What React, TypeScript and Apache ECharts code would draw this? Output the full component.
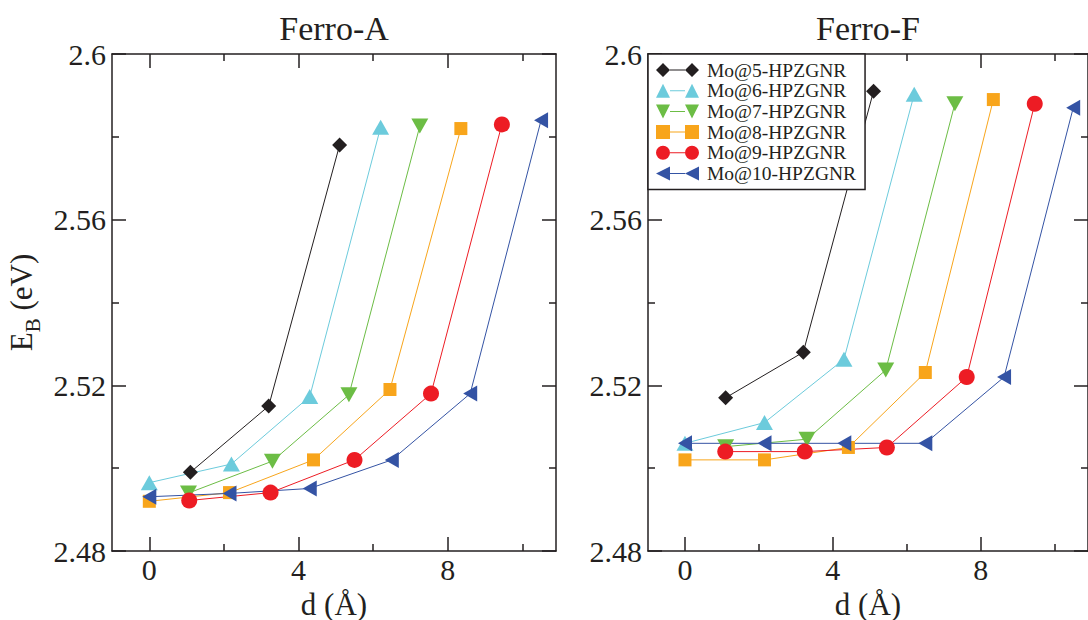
import React, { useEffect, useRef } from "react";
import * as echarts from "echarts";

// ---- series meta ----
const seriesNames = ["Mo@5-HPZGNR", "Mo@6-HPZGNR", "Mo@7-HPZGNR", "Mo@8-HPZGNR", "Mo@9-HPZGNR", "Mo@10-HPZGNR"];
const seriesColors = ["#231f20", "#6ccbdc", "#6cbd45", "#f8a51b", "#ed1c24", "#3453a4"];
const panelTitles = ["Ferro-A", "Ferro-F"];
const xAxisTitle = "d (Å)";
const yAxisTitle = "{a|E}{b|B}{a| (eV)}";

// ---- Ferro-A data: d (Å) and E_B (eV) ----
const dA5 = [1.1, 3.2, 5.1];
const eA5 = [2.499, 2.515, 2.578];
const dA6 = [0, 2.2, 4.3, 6.2];
const eA6 = [2.4965, 2.501, 2.5173, 2.5823];
const dA7 = [1.05, 3.3, 5.35, 7.25];
const eA7 = [2.494, 2.5017, 2.5177, 2.5826];
const dA8 = [0, 2.15, 4.4, 6.45, 8.35];
const eA8 = [2.492, 2.4941, 2.502, 2.519, 2.582];
const dA9 = [1.07, 3.25, 5.5, 7.55, 9.45];
const eA9 = [2.4922, 2.4941, 2.502, 2.518, 2.583];
const dA10 = [0, 2.15, 4.3, 6.5, 8.6, 10.5];
const eA10 = [2.4931, 2.4939, 2.4951, 2.502, 2.518, 2.584];

// ---- Ferro-F data ----
const dF5 = [1.1, 3.2, 5.1];
const eF5 = [2.517, 2.528, 2.591];
const dF6 = [0, 2.15, 4.3, 6.2];
const eF6 = [2.506, 2.511, 2.5263, 2.5903];
const dF7 = [1.1, 3.3, 5.43, 7.3];
const eF7 = [2.5052, 2.507, 2.5237, 2.588];
const dF8 = [0, 2.15, 4.42, 6.5, 8.34];
const eF8 = [2.502, 2.502, 2.505, 2.5231, 2.589];
const dF9 = [1.09, 3.24, 5.46, 7.62, 9.46];
const eF9 = [2.504, 2.504, 2.505, 2.522, 2.588];
const dF10 = [0, 2.15, 4.31, 6.5, 8.63, 10.5];
const eF10 = [2.506, 2.506, 2.506, 2.506, 2.522, 2.587];

// ---- axis ticks ----
const xMajorTicks = [0, 4, 8];
const xMinorTicks = [2, 6, 10];
const yMajorTicks = [2.48, 2.52, 2.56, 2.6];
const yMinorTicks = [2.5, 2.54, 2.58];
const xMin = -1;
const xMax = 10.9;
const yMin = 2.48;
const yMax = 2.6;

const panelX = [
  [dA5, dA6, dA7, dA8, dA9, dA10],
  [dF5, dF6, dF7, dF8, dF9, dF10],
];
const panelY = [
  [eA5, eA6, eA7, eA8, eA9, eA10],
  [eF5, eF6, eF7, eF8, eF9, eF10],
];

const symbolKinds = ["diamond", "triangle", "triangle", "rect", "circle", "triangle"];
const symbolRot = [0, 0, 180, 0, 0, 90];
const symbolSz: any[] = [[15, 15], [17, 15], [17, 15], [13, 13], [16, 16], [16, 14]];

const bar = "M14,6.5L29,6.5L29,7.5L14,7.5Z";
const legendIcons = [
  "path://M0,7L7,0L14,7L7,14Z" + bar + "M29,7L36,0L43,7L36,14Z",
  "path://M0,14L7,0L14,14Z" + bar + "M29,14L36,0L43,14Z",
  "path://M0,0L14,0L7,14Z" + bar + "M29,0L43,0L36,14Z",
  "path://M0,0L14,0L14,14L0,14Z" + bar + "M29,0L43,0L43,14L29,14Z",
  "path://M0,7A7,7,0,1,1,14,7A7,7,0,1,1,0,7Z" + bar + "M29,7A7,7,0,1,1,43,7A7,7,0,1,1,29,7Z",
  "path://M0,7L14,0L14,14Z" + bar + "M29,7L43,0L43,14Z",
];

const FONT = "Liberation Serif";
const INK = "#231f20";

export default function App() {
  const ref = useRef<HTMLDivElement>(null);
  useEffect(() => {
    if (!ref.current) return;
    const chart = echarts.init(ref.current, undefined, { renderer: "svg" });
    const gridLeft = [112, 648];
    const grids: any[] = [];
    const xAxes: any[] = [];
    const yAxes: any[] = [];
    const lineStyle = { color: INK, width: 1.5 };
    const noLabel = { show: false };
    const noSplit = { show: false };

    gridLeft.forEach((l, p) => {
      // four overlapping grids per panel: main, mirror-major, minor, mirror-minor
      for (let k = 0; k < 4; k++) grids.push({ left: l, top: 54, width: 444, height: 497 });
      const g0 = p * 4;
      const mk = (gi: number, pos: string, isX: boolean, major: boolean) => {
        const ax: any = {
          gridIndex: gi, type: "value", position: pos,
          min: isX ? xMin : yMin, max: isX ? xMax : yMax,
          axisLine: { show: major, onZero: false, lineStyle },
          axisTick: {
            show: true, inside: true, length: major ? 14 : 7,
            customValues: isX ? (major ? xMajorTicks : xMinorTicks) : (major ? yMajorTicks : yMinorTicks),
            lineStyle,
          },
          axisLabel: noLabel, splitLine: noSplit,
        };
        (isX ? xAxes : yAxes).push(ax);
      };
      mk(g0, "bottom", true, true);
      mk(g0, "left", false, true);
      mk(g0 + 1, "top", true, true);
      mk(g0 + 1, "right", false, true);
      mk(g0 + 2, "bottom", true, false);
      mk(g0 + 2, "left", false, false);
      mk(g0 + 3, "top", true, false);
      mk(g0 + 3, "right", false, false);
    });

    const series: any[] = [];
    [0, 1].forEach((p) => {
      seriesNames.forEach((name, i) => {
        const xs = panelX[p][i];
        const ys = panelY[p][i];
        series.push({
          type: "line",
          name,
          xAxisIndex: p * 4,
          yAxisIndex: p * 4,
          data: xs.map((x, k) => [x, ys[k]]),
          symbol: symbolKinds[i],
          symbolRotate: symbolRot[i],
          symbolSize: symbolSz[i],
          showAllSymbol: true,
          lineStyle: { color: seriesColors[i], width: 1 },
          itemStyle: { color: seriesColors[i], borderWidth: 0 },
          emphasis: { disabled: true },
          clip: false,
        });
      });
    });

    chart.setOption({
      animation: false,
      backgroundColor: "#fff",
      textStyle: { fontFamily: FONT, color: INK },
      grid: grids,
      xAxis: xAxes,
      yAxis: yAxes,
      series,
      legend: {
        left: 648,
        top: 54,
        orient: "vertical",
        itemWidth: 43,
        itemHeight: 14,
        itemGap: 0.7,
        padding: [6, 9, 6, 8],
        backgroundColor: "#fff",
        borderColor: INK,
        borderWidth: 1.5,
        selectedMode: false,
        itemStyle: { borderWidth: 0 },
        textStyle: { fontSize: 19.5, fontFamily: FONT, color: INK, padding: [0, 0, 0, 3] },
        data: seriesNames.map((n, i) => ({ name: n, icon: legendIcons[i], itemStyle: { color: seriesColors[i], borderWidth: 0 } })),
      },
    });

    // Tick labels, axis titles and panel titles placed through the axes' own scales
    const txt = (x: number, y: number, text: string, size: number, align: string, extra: any = {}) => ({
      type: "text",
      x,
      y,
      z: 10,
      ...extra,
      style: { text, fontSize: size, fontFamily: FONT, fill: INK, textAlign: align, textVerticalAlign: "middle", ...(extra.style || {}) },
    });
    const gfx: any[] = [];
    [0, 1].forEach((p) => {
      const finder = { gridIndex: p * 4 };
      xMajorTicks.forEach((v) => {
        const pt = chart.convertToPixel(finder, [v, yMin]) as number[];
        gfx.push(txt(pt[0], pt[1] + 18, String(v), 30, "center"));
      });
      yMajorTicks.forEach((v) => {
        const pt = chart.convertToPixel(finder, [xMin, v]) as number[];
        gfx.push(txt(pt[0] - 6, pt[1], String(v), 30, "right"));
      });
      const bottomMid = chart.convertToPixel(finder, [(xMin + xMax) / 2, yMin]) as number[];
      gfx.push(txt(bottomMid[0], bottomMid[1] + 53, xAxisTitle, 31, "center"));
      const topMid = chart.convertToPixel(finder, [(xMin + xMax) / 2, yMax]) as number[];
      gfx.push(txt(topMid[0], topMid[1] - 26, panelTitles[p], 34, "center"));
    });
    const leftMid = chart.convertToPixel({ gridIndex: 0 }, [xMin, (yMin + yMax) / 2]) as number[];
    gfx.push({
      type: "text",
      x: leftMid[0] - 91,
      y: leftMid[1],
      rotation: Math.PI / 2,
      z: 10,
      style: {
        text: yAxisTitle,
        fontFamily: FONT,
        fill: INK,
        textAlign: "center",
        textVerticalAlign: "middle",
        rich: {
          a: { fontSize: 31, fontFamily: FONT, fill: INK, lineHeight: 36, verticalAlign: "middle" },
          b: { fontSize: 21, fontFamily: FONT, fill: INK, lineHeight: 45, verticalAlign: "bottom" },
        },
      },
    });
    chart.setOption({ graphic: gfx });
    return () => chart.dispose();
  }, []);
  return <div ref={ref} style={{ position: "fixed", left: 0, top: 0, width: 1088, height: 620 }} />;
}
